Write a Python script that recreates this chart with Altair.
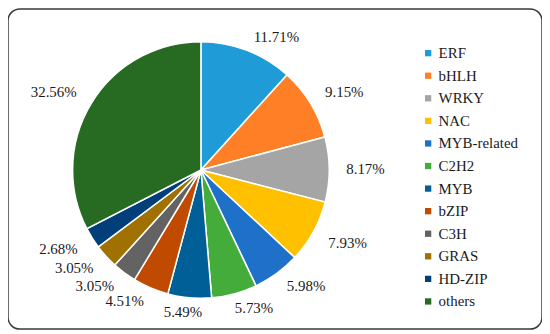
import altair as alt
import pandas as pd

categories = ["ERF", "bHLH", "WRKY", "NAC", "MYB-related", "C2H2", "MYB",
              "bZIP", "C3H", "GRAS", "HD-ZIP", "others"]
values = [11.71, 9.15, 8.17, 7.93, 5.98, 5.73, 5.49, 4.51, 3.05, 3.05, 2.68, 32.56]
colors = ["#1F9BD7", "#FF7F27", "#A5A5A5", "#FFC000", "#1F70C8", "#43AC3B",
          "#015F97", "#C04B00", "#636363", "#A07000", "#003F7A", "#276A22"]

df = pd.DataFrame({
    "idx": list(range(len(categories))),
    "family": categories,
    "value": values,
    "label": [f"{v:.2f}%" for v in values],
})

FONT = "Times New Roman, Liberation Serif, serif"
cx, cy = 194, 162

arcs = alt.Chart(df).mark_arc(outerRadius=129, stroke="white", strokeWidth=1.5).encode(
    theta=alt.Theta("value:Q", stack=True),
    order=alt.Order("idx:Q", sort="ascending"),
    x=alt.value(cx), y=alt.value(cy),
    color=alt.Color(
        "family:N",
        scale=alt.Scale(domain=categories, range=colors),
        sort=categories,
        legend=alt.Legend(
            title=None, orient="none", legendX=415, legendY=37,
            symbolType="square", symbolSize=40, symbolStrokeWidth=0,
            labelFont=FONT, labelFontSize=15, labelColor="#1a1a1a",
            rowPadding=6.7, labelOffset=3, padding=0,
        ),
    ),
)

# Excel-like "best fit" label placement: label box corner sits just outside the slice edge
texts = alt.Chart(df).transform_joinaggregate(
    total="sum(value)"
).transform_window(
    cum="sum(value)", sort=[alt.SortField("idx", order="ascending")],
    frame=[None, 0],
).transform_calculate(
    a="2*PI*(datum.cum - datum.value/2)/datum.total",
).transform_calculate(
    hw="length(datum.label)*3.9",
).transform_calculate(
    ex="146*sin(datum.a) + datum.hw*clamp(3*sin(datum.a), -1, 1)",
    ey="-135*cos(datum.a) - 8*clamp(3*cos(datum.a), -1, 1)",
).transform_calculate(
    r="sqrt(datum.ex*datum.ex + datum.ey*datum.ey)",
    t="atan2(datum.ex, -datum.ey)",
).transform_calculate(
    tv="(datum.t < 0 ? datum.t + 2*PI : datum.t)/(2*PI)*datum.total",
).mark_text(font=FONT, fontSize=15, color="#1a1a1a", align="center", baseline="middle").encode(
    theta=alt.Theta("tv:Q", stack=None),
    radius=alt.Radius("r:Q", scale=None),
    x=alt.value(cx), y=alt.value(cy),
    text="label:N",
)

chart = (arcs + texts).properties(
    width=537, height=322, padding=0,
).configure(
    font=FONT,
).configure_view(
    stroke="#3a3a3a", strokeWidth=1.5, cornerRadius=12, fill="white",
)

chart.save("out.html", embed_options={"renderer": "svg", "actions": False})
